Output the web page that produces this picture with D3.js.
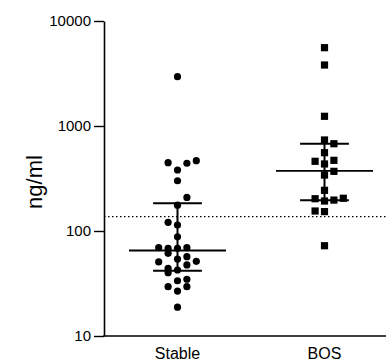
<!DOCTYPE html>
<html><head><meta charset="utf-8">
<script src="https://cdn.jsdelivr.net/npm/d3@7"></script>
<style>body{margin:0;background:#fff}svg{display:block}</style>
</head><body><svg id="c" width="388" height="364"></svg>
<script>
const categories = ["Stable", "BOS"];
const stableValues = [2950,447,442,467,381,301,209,176,121,114,88,69.3,68.4,68.4,69.3,61.3,54.1,56.9,50.7,51.4,47.5,44.2,40.1,42.5,33.6,34.7,29.5,29.5,26.8,18.8];
const stableCols   = [0,-1,1,2,0,0,1,0,-1,0,0,-2,-1,0,1,-1,0,1,-2,2,1,-1,-1,0,0,1,-1,1,0,0];
const bosValues = [5570,3810,1237,736,678,557,461,471,435,370,341,244,203,193,197,205,155,153,72.4];
const bosCols   = [0,0,0,0,1,0,-1,1,0,1,0,0,-1,0,1,2,-1,0,0];
const medians = [65.2, 373];
const q1s = [41.9, 196];
const q3s = [184, 678];
const cutoff = 137;
const yTicks = [10, 100, 1000, 10000];
const yLabel = "ng/ml";

const svg = d3.select("#c");
const mLeft = 104, mTop = 21, mBottom = 336, axisRight = 386;
const x = d3.scalePoint().domain(categories).range([mLeft, mLeft + 294]).padding(0.5);
const y = d3.scaleLog().domain([10, 10000]).range([mBottom, mTop]);
const colStep = 9.4;
const font = "Liberation Sans, Arial, sans-serif";

// cutoff dotted line
svg.append("line")
  .attr("x1", mLeft).attr("x2", axisRight)
  .attr("y1", y(cutoff)).attr("y2", y(cutoff))
  .attr("stroke", "#000").attr("stroke-width", 1.2)
  .attr("stroke-dasharray", "1.5,2.5");

// y axis
const yAxis = d3.axisLeft(y).tickValues(yTicks).tickFormat(d3.format("d")).tickSize(10).tickSizeOuter(0);
const gy = svg.append("g").attr("transform", `translate(${mLeft},0)`).call(yAxis);
gy.select(".domain").attr("stroke-width", 1.6);
gy.selectAll(".tick line").attr("stroke-width", 1.4);
gy.selectAll(".tick text").attr("font-family", font).attr("font-size", 15).attr("fill", "#000").attr("x", -13);

// x axis
svg.append("line").attr("x1", mLeft - 0.8).attr("x2", axisRight)
  .attr("y1", mBottom).attr("y2", mBottom).attr("stroke", "#000").attr("stroke-width", 1.6);
svg.selectAll(".xlab").data(categories).join("text")
  .attr("x", d => x(d)).attr("y", 359).attr("text-anchor", "middle")
  .attr("font-family", font).attr("font-size", 16).text(d => d);

// y label
svg.append("text").attr("transform", `translate(42,182) rotate(-90)`)
  .attr("text-anchor", "middle").attr("font-family", font).attr("font-size", 22).text(yLabel);

// summary lines
categories.forEach((c, i) => {
  const cx = x(c);
  const hm = x.step() * 0.33, hq = x.step() * 0.166;
  svg.append("line").attr("x1", cx).attr("x2", cx).attr("y1", y(q3s[i])).attr("y2", y(q1s[i]))
    .attr("stroke", "#000").attr("stroke-width", 2);
  svg.append("line").attr("x1", cx - hm).attr("x2", cx + hm).attr("y1", y(medians[i])).attr("y2", y(medians[i]))
    .attr("stroke", "#000").attr("stroke-width", 1.8);
  [q1s[i], q3s[i]].forEach(v => {
    svg.append("line").attr("x1", cx - hq).attr("x2", cx + hq).attr("y1", y(v)).attr("y2", y(v))
      .attr("stroke", "#000").attr("stroke-width", 2);
  });
});

// points
const stable = stableValues.map((v, i) => ({v, c: stableCols[i]}));
const bos = bosValues.map((v, i) => ({v, c: bosCols[i]}));
svg.selectAll(".pt-s").data(stable).join("circle")
  .attr("cx", d => x("Stable") + d.c * colStep).attr("cy", d => y(d.v)).attr("r", 3.6).attr("fill", "#000");
const sq = 7.2;
svg.selectAll(".pt-b").data(bos).join("rect")
  .attr("x", d => x("BOS") + d.c * colStep - sq / 2).attr("y", d => y(d.v) - sq / 2)
  .attr("width", sq).attr("height", sq).attr("fill", "#000");
</script></body></html>
